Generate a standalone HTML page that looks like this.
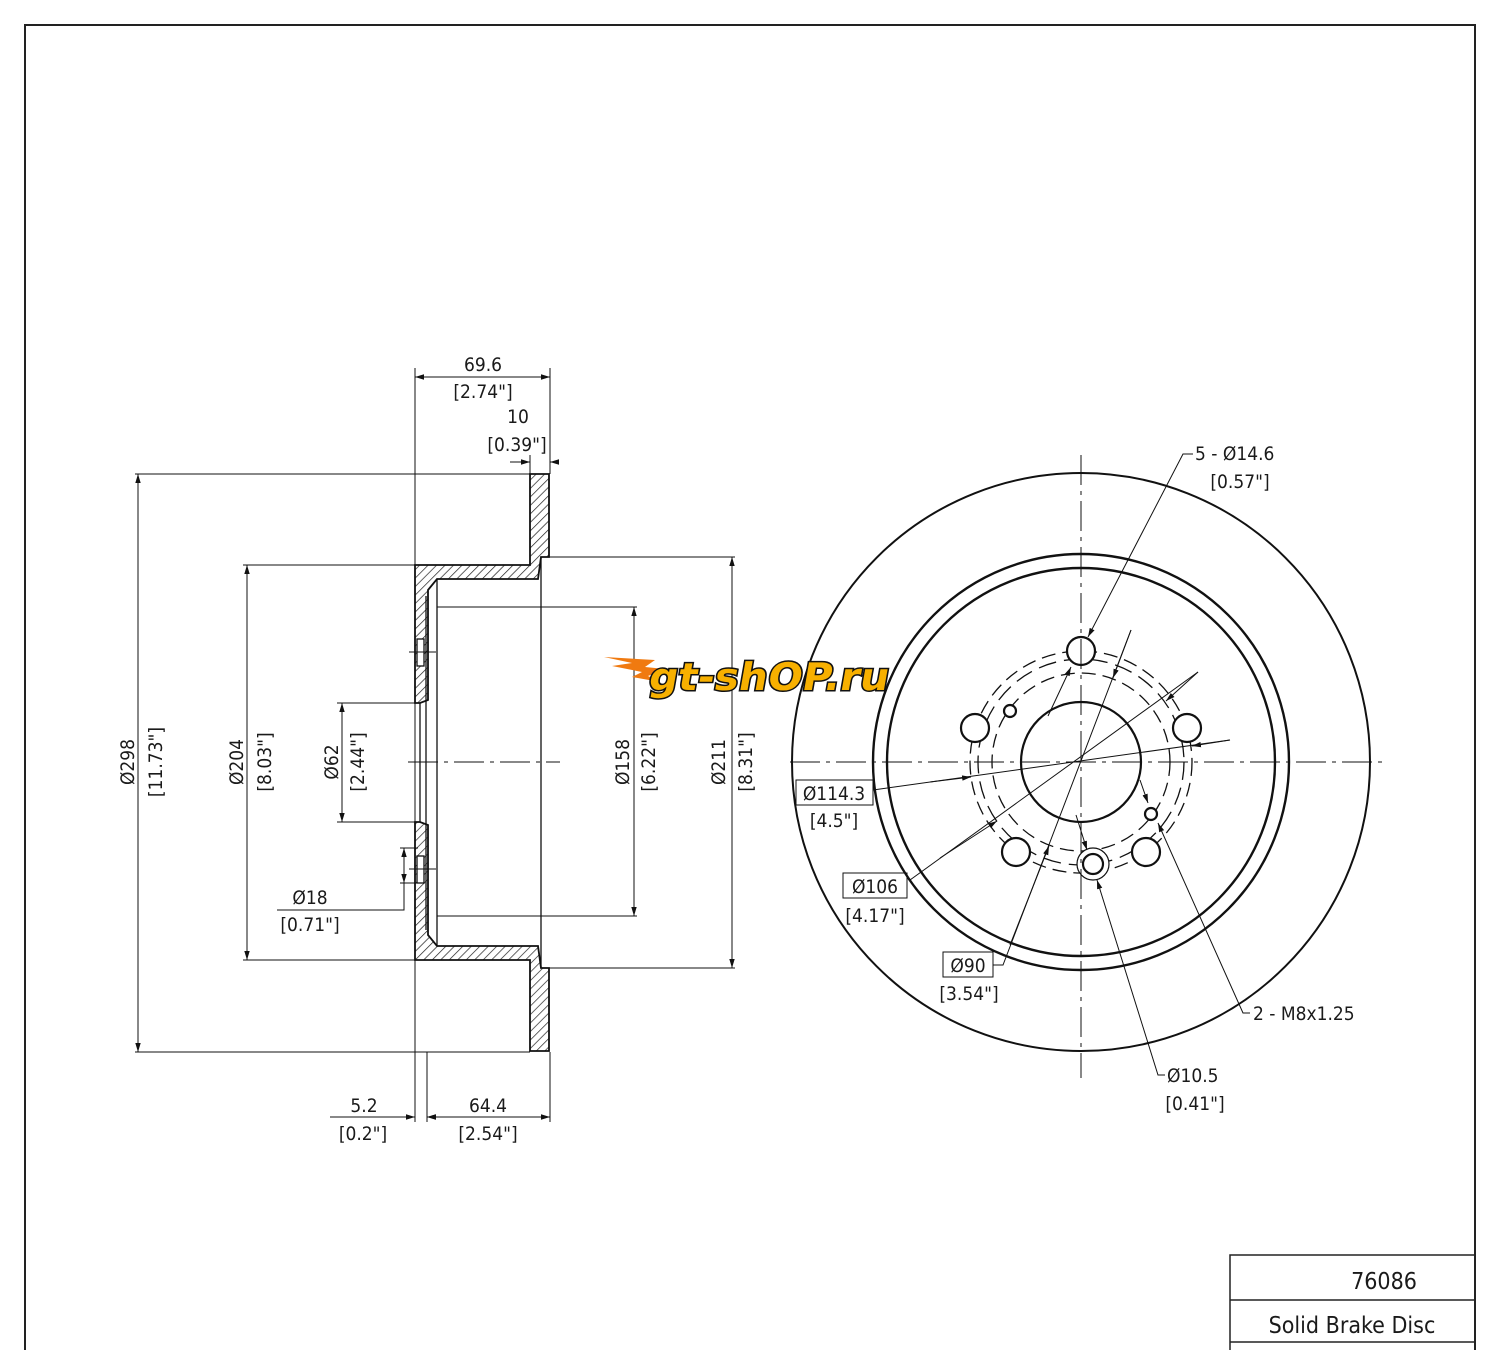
<!DOCTYPE html>
<html><head><meta charset="utf-8"><style>
html,body{margin:0;padding:0;background:#fff;}
svg{display:block;}
text{font-family:"DejaVu Sans Condensed","Liberation Sans",sans-serif;font-size:19px;fill:#1a1a1a;}
</style></head><body>
<svg width="1500" height="1350" viewBox="0 0 1500 1350" xmlns="http://www.w3.org/2000/svg">
<defs>
<pattern id="h" patternUnits="userSpaceOnUse" width="6" height="6" patternTransform="rotate(45)">
<rect width="6" height="6" fill="#fff"/><line x1="0" y1="0" x2="0" y2="6" stroke="#222" stroke-width="1.4"/>
</pattern>
<marker id="a" viewBox="0 0 10 10" refX="10" refY="5" markerWidth="9" markerHeight="9" orient="auto-start-reverse" markerUnits="userSpaceOnUse"><path d="M0,2 L10,5 L0,8 Z" fill="#111"/></marker>
</defs>
<path d="M25,1350 V25 H1475 V1350" fill="none" stroke="#222" stroke-width="2"/>
<path d="M1230,1350 V1255 H1475 M1230,1300 H1475 M1230,1342 H1475" fill="none" stroke="#222" stroke-width="1.5"/>
<text x="1384" y="1289" text-anchor="middle" style="font-size:23px">76086</text>
<text x="1352" y="1333" text-anchor="middle" style="font-size:23px">Solid Brake Disc</text>

<g stroke="#111" fill="none" stroke-width="1">
<path d="M415,565 H530 V474 H549 V557 H541 L538,579 H437 L428,590 V700 L420,703 H415 Z" fill="url(#h)" stroke-width="1.8"/>
<path d="M415,960 H530 V1051 H549 V968 H541 L538,946 H437 L428,935 V825 L420,822 H415 Z" fill="url(#h)" stroke-width="1.8"/>
<rect x="417" y="639" width="7" height="27" fill="#fff" stroke-width="1.3"/>
<rect x="417" y="856" width="7" height="27" fill="#fff" stroke-width="1.3"/>
<path d="M409,652 H436 M409,869 H436" />
<path d="M541,557 V968 M437,579 V946 M426,596 V930 M420,703 V822" stroke-width="1.3"/>
<path d="M408,762 H560" stroke-dasharray="30,6,4,6"/>
<path d="M415,368 V1122 M550,368 V474 M427,1052 V1122 M550,1052 V1122 M530,455 V474"/>
<path d="M135,474 H530 M135,1052 H530 M243,565 H415 M243,960 H415 M337,703 H420 M337,822 H420 M437,607 H637 M437,916 H637 M549,557 H735 M549,968 H735"/>
<path d="M138,474 V1052" marker-start="url(#a)" marker-end="url(#a)"/>
<path d="M247,565 V960" marker-start="url(#a)" marker-end="url(#a)"/>
<path d="M342,703 V822" marker-start="url(#a)" marker-end="url(#a)"/>
<path d="M634,607 V916" marker-start="url(#a)" marker-end="url(#a)"/>
<path d="M732,557 V968" marker-start="url(#a)" marker-end="url(#a)"/>
<path d="M415,377 H550" marker-start="url(#a)" marker-end="url(#a)"/>
<path d="M427,1117 H550" marker-start="url(#a)" marker-end="url(#a)"/>
<path d="M330,1117 H415" marker-end="url(#a)"/>
<path d="M445,1117 H427" marker-end="url(#a)"/>
<path d="M510,462 H530" marker-end="url(#a)"/>
<path d="M555,462 H550" marker-end="url(#a)"/>
<path d="M277,910 H404 V848"/>
<path d="M400,848 H418 M400,883 H418"/>
<path d="M404,866 V848" marker-end="url(#a)"/><path d="M404,866 V883" marker-end="url(#a)"/>

<circle cx="1081" cy="762" r="289" stroke-width="2"/>
<circle cx="1081" cy="762" r="208" stroke-width="2.4"/>
<circle cx="1081" cy="762" r="194" stroke-width="2.4"/>
<circle cx="1081" cy="762" r="60" stroke-width="2.2"/>
<circle cx="1081" cy="762" r="111" stroke-dasharray="14,7" stroke-width="1.3"/>
<circle cx="1081" cy="762" r="103" stroke-dasharray="18,8" stroke-width="1.3"/>
<circle cx="1081" cy="762" r="89" stroke-dasharray="14,7" stroke-width="1.3"/>
<g stroke-width="2.2" fill="#fff">
<circle cx="1081" cy="651" r="14"/>
<circle cx="1187" cy="728" r="14"/>
<circle cx="1146" cy="852" r="14"/>
<circle cx="1016" cy="852" r="14"/>
<circle cx="975" cy="728" r="14"/>
<circle cx="1010" cy="711" r="6"/>
<circle cx="1151" cy="814" r="6"/>
<circle cx="1093" cy="864" r="16" stroke-width="1.2"/>
<circle cx="1093" cy="864" r="10"/>
</g>
<path d="M790,762 H1385" stroke-dasharray="30,6,4,6"/>
<path d="M1081,455 V1078" stroke-dasharray="30,6,4,6"/>
<path d="M1193,454 H1183 L1088,637" marker-end="url(#a)"/>
<path d="M1048,716 L1071,667" marker-end="url(#a)"/>
<path d="M873,790 L1230,740"/>
<path d="M930,782 L971,777" marker-end="url(#a)"/>
<path d="M1230,740 L1192,746" marker-end="url(#a)"/>
<path d="M910,880 L1198,672"/>
<path d="M940,858 L997,821" marker-end="url(#a)"/>
<path d="M1198,672 L1166,701" marker-end="url(#a)"/>
<path d="M993,965 H1003 L1131,630"/>
<path d="M1010,945 L1049,846" marker-end="url(#a)"/>
<path d="M1131,630 L1113,678" marker-end="url(#a)"/>
<path d="M1165,1075 H1158 L1097,880" marker-end="url(#a)"/>
<path d="M1076,815 L1087,850" marker-end="url(#a)"/>
<path d="M1250,1013 H1243 L1158,823" marker-end="url(#a)"/>
<path d="M1140,780 L1148,803" marker-end="url(#a)"/>
<rect x="796" y="780" width="77" height="25"/>
<rect x="843" y="873" width="64" height="25"/>
<rect x="943" y="952" width="50" height="25"/>
</g>

<text x="483" y="371" text-anchor="middle">69.6</text>
<text x="483" y="398" text-anchor="middle">[2.74"]</text>
<text x="518" y="423" text-anchor="middle">10</text>
<text x="517" y="451" text-anchor="middle">[0.39"]</text>
<text x="364" y="1112" text-anchor="middle">5.2</text>
<text x="363" y="1140" text-anchor="middle">[0.2"]</text>
<text x="488" y="1112" text-anchor="middle">64.4</text>
<text x="488" y="1140" text-anchor="middle">[2.54"]</text>
<text x="310" y="904" text-anchor="middle">Ø18</text>
<text x="310" y="931" text-anchor="middle">[0.71"]</text>
<text transform="translate(134,762) rotate(-90)" text-anchor="middle">Ø298</text>
<text transform="translate(162,762) rotate(-90)" text-anchor="middle">[11.73"]</text>
<text transform="translate(243,762) rotate(-90)" text-anchor="middle">Ø204</text>
<text transform="translate(271,762) rotate(-90)" text-anchor="middle">[8.03"]</text>
<text transform="translate(338,762) rotate(-90)" text-anchor="middle">Ø62</text>
<text transform="translate(364,762) rotate(-90)" text-anchor="middle">[2.44"]</text>
<text transform="translate(629,762) rotate(-90)" text-anchor="middle">Ø158</text>
<text transform="translate(655,762) rotate(-90)" text-anchor="middle">[6.22"]</text>
<text transform="translate(725,762) rotate(-90)" text-anchor="middle">Ø211</text>
<text transform="translate(752,762) rotate(-90)" text-anchor="middle">[8.31"]</text>
<text x="1195" y="460">5 - Ø14.6</text>
<text x="1240" y="488" text-anchor="middle">[0.57"]</text>
<text x="834" y="800" text-anchor="middle">Ø114.3</text>
<text x="834" y="827" text-anchor="middle">[4.5"]</text>
<text x="875" y="893" text-anchor="middle">Ø106</text>
<text x="875" y="922" text-anchor="middle">[4.17"]</text>
<text x="968" y="972" text-anchor="middle">Ø90</text>
<text x="969" y="1000" text-anchor="middle">[3.54"]</text>
<text x="1253" y="1020">2 - M8x1.25</text>
<text x="1167" y="1082">Ø10.5</text>
<text x="1195" y="1110" text-anchor="middle">[0.41"]</text>

<g>
<path d="M604,657 L655,660 L645,667 L665,669 L648,676 L660,682 L632,677 L642,672 L612,666 L632,663 Z" fill="#f07a10"/>
<text x="648" y="690" textLength="240" lengthAdjust="spacingAndGlyphs" transform="skewX(-10) translate(121,0)" style="font-family:'DejaVu Sans','Liberation Sans',sans-serif;font-size:38px;font-weight:bold;fill:#f7b000;stroke:#111;stroke-width:3;paint-order:stroke">gt-shOP.ru</text>
</g>
</svg>
</body></html>
